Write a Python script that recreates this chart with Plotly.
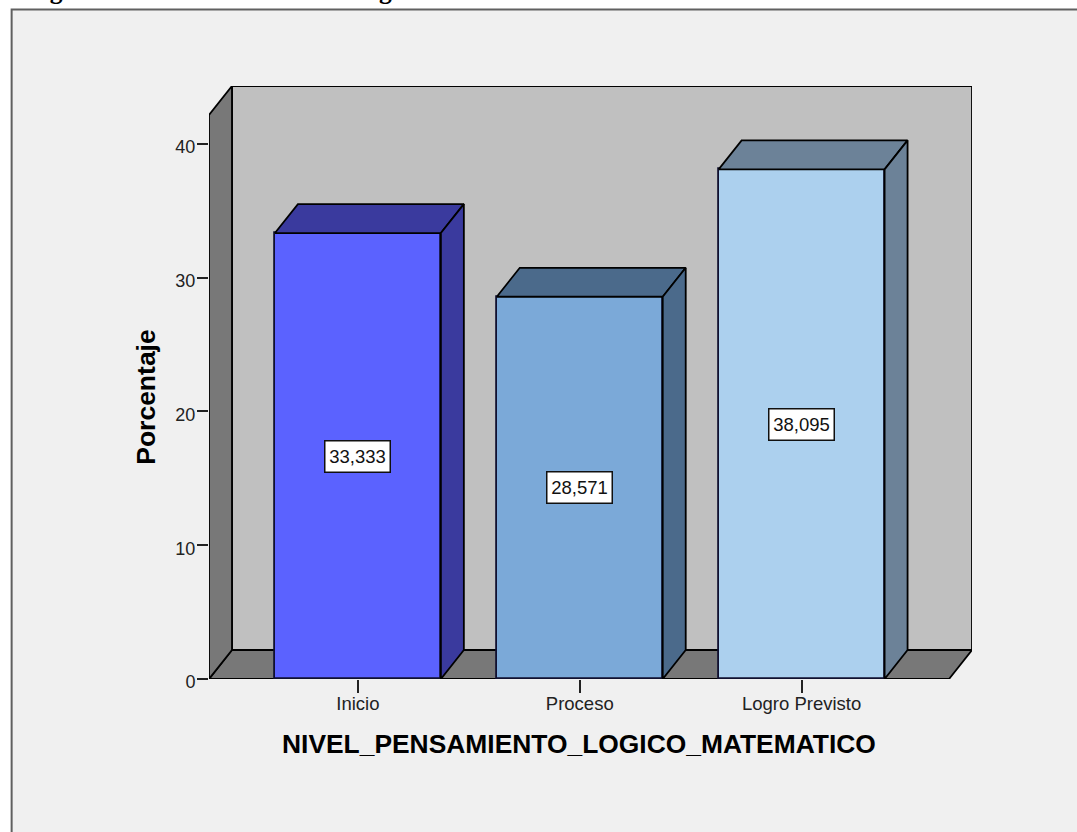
import plotly.graph_objects as go

categories = ["Inicio", "Proceso", "Logro Previsto"]
percentages = [33.333, 28.571, 38.095]
y_ticks = [0, 10, 20, 30, 40]
front_colors = ["#5b62ff", "#7ba9d8", "#acd0ee"]
shade_colors = ["#3a3a9e", "#4b6a8b", "#6c8298"]

WIDTH, HEIGHT = 1077, 832
FRONT_LEFT, BACK_RIGHT = 208.5, 972.0   # horizontal pixel extent of the plot
FLOOR_PX, CEILING_PX = 679.5, 86.0      # vertical pixel extent of the plot
PX_PER_CATEGORY = 222.0
PX_PER_UNIT = 13.39
BAR_WIDTH = 0.748

# Extrusion of the pseudo-3D box, in axis units
DEPTH_X = 23.0 / PX_PER_CATEGORY
DEPTH_Y = 29.0 / PX_PER_UNIT

positions = list(range(len(categories)))
x_lo = -(357.5 - FRONT_LEFT) / PX_PER_CATEGORY
x_hi = x_lo + (BACK_RIGHT - FRONT_LEFT) / PX_PER_CATEGORY
y_hi = (FLOOR_PX - CEILING_PX) / PX_PER_UNIT
front_right = x_hi - DEPTH_X
front_top = y_hi - DEPTH_Y

plot_w = BACK_RIGHT - FRONT_LEFT
plot_h = FLOOR_PX - CEILING_PX


def paper_x(px):
    return (px - FRONT_LEFT) / plot_w


def paper_y(px):
    return (FLOOR_PX - px) / plot_h


def wall(xs, ys, color):
    path = "M " + " L ".join(f"{x},{y}" for x, y in zip(xs, ys)) + " Z"
    return dict(
        type="path", path=path, xref="x", yref="y", layer="below",
        fillcolor=color, line=dict(color="#000000", width=1.8),
    )


fig = go.Figure()

# Extruded top and side of each bar
half = BAR_WIDTH / 2
for pos, value, shade in zip(positions, percentages, shade_colors):
    left, right = pos - half, pos + half
    for xs, ys in (
        ([left, right, right + DEPTH_X, left + DEPTH_X],
         [value, value, value + DEPTH_Y, value + DEPTH_Y]),
        ([right, right + DEPTH_X, right + DEPTH_X, right],
         [0, DEPTH_Y, value + DEPTH_Y, value]),
    ):
        fig.add_trace(go.Scatter(
            x=xs + xs[:1], y=ys + ys[:1], mode="lines", fill="toself",
            fillcolor=shade, line=dict(color="#000000", width=1.8),
            hoverinfo="skip", showlegend=False, cliponaxis=False,
        ))

fig.add_trace(go.Bar(
    x=positions, y=percentages, width=BAR_WIDTH,
    marker=dict(color=front_colors, line=dict(color="#101030", width=1.8)),
    hoverinfo="skip", showlegend=False,
))

# Value labels centred on each bar
for pos, value in zip(positions, percentages):
    fig.add_annotation(
        x=pos, y=value / 2, text=f"{value:.3f}".replace(".", ","), showarrow=False,
        font=dict(family="Liberation Sans", size=18.5, color="#111111"),
        bgcolor="#ffffff", bordercolor="#101010", borderwidth=1.5, borderpad=3,
        width=58, height=24,
    )

# Caption cut off by the top of the page
for caption, left_px in (("Figura 1.", 24), ("Pensamiento lógico matemático", 212)):
    fig.add_annotation(
        xref="paper", yref="paper", x=paper_x(left_px), y=paper_y(-10),
        xanchor="left", yanchor="middle", showarrow=False,
        text=f"<b>{caption}</b>",
        font=dict(family="Liberation Serif", size=25.5, color="#000000"),
    )

# Axis titles, placed off the centre of the plot area
fig.add_annotation(
    xref="paper", yref="paper", x=paper_x(578.5), y=paper_y(745),
    xanchor="center", yanchor="middle", showarrow=False,
    text="<b>NIVEL_PENSAMIENTO_LOGICO_MATEMATICO</b>",
    font=dict(family="Liberation Sans", size=26.4, color="#000000"),
)
fig.add_annotation(
    xref="paper", yref="paper", x=paper_x(146), y=paper_y(397.5),
    xanchor="center", yanchor="middle", showarrow=False, textangle=-90,
    text="<b>Porcentaje</b>",
    font=dict(family="Liberation Sans", size=26.5, color="#000000"),
)

fig.update_layout(
    width=WIDTH, height=HEIGHT, autosize=False,
    margin=dict(l=FRONT_LEFT, r=WIDTH - BACK_RIGHT, t=CEILING_PX, b=HEIGHT - FLOOR_PX),
    paper_bgcolor="#ffffff", plot_bgcolor="rgba(0,0,0,0)", bargap=0,
    font=dict(family="Liberation Sans", color="#222222"),
    shapes=[
        # Chart panel behind everything
        dict(
            type="rect", xref="paper", yref="paper", layer="below",
            x0=paper_x(11), x1=paper_x(WIDTH + 10),
            y0=paper_y(HEIGHT + 10), y1=paper_y(9.5),
            fillcolor="#f0f0f0", line=dict(color="#606060", width=2),
        ),
        # Back wall, floor and left wall of the box
        wall([x_lo + DEPTH_X, x_hi, x_hi, x_lo + DEPTH_X],
             [DEPTH_Y, DEPTH_Y, y_hi, y_hi], "#c0c0c0"),
        wall([x_lo, front_right, x_hi, x_lo + DEPTH_X],
             [0, 0, DEPTH_Y, DEPTH_Y], "#787878"),
        wall([x_lo, x_lo + DEPTH_X, x_lo + DEPTH_X, x_lo],
             [0, DEPTH_Y, y_hi, front_top], "#787878"),
    ],
    xaxis=dict(
        range=[x_lo, x_hi],
        tickmode="array", tickvals=positions, ticktext=categories,
        ticks="outside", ticklen=13, tickwidth=1.5, tickcolor="#222222",
        tickfont=dict(size=18.5), ticklabelstandoff=-5,
        showgrid=False, zeroline=False,
    ),
    yaxis=dict(
        range=[0, y_hi],
        tickmode="array", tickvals=y_ticks,
        ticks="outside", ticklen=11, tickwidth=1.5, tickcolor="#222222",
        tickfont=dict(size=18), ticklabelshift=3, ticklabelstandoff=-2,
        showgrid=False, zeroline=False,
    ),
)

fig.write_html("out.html")
